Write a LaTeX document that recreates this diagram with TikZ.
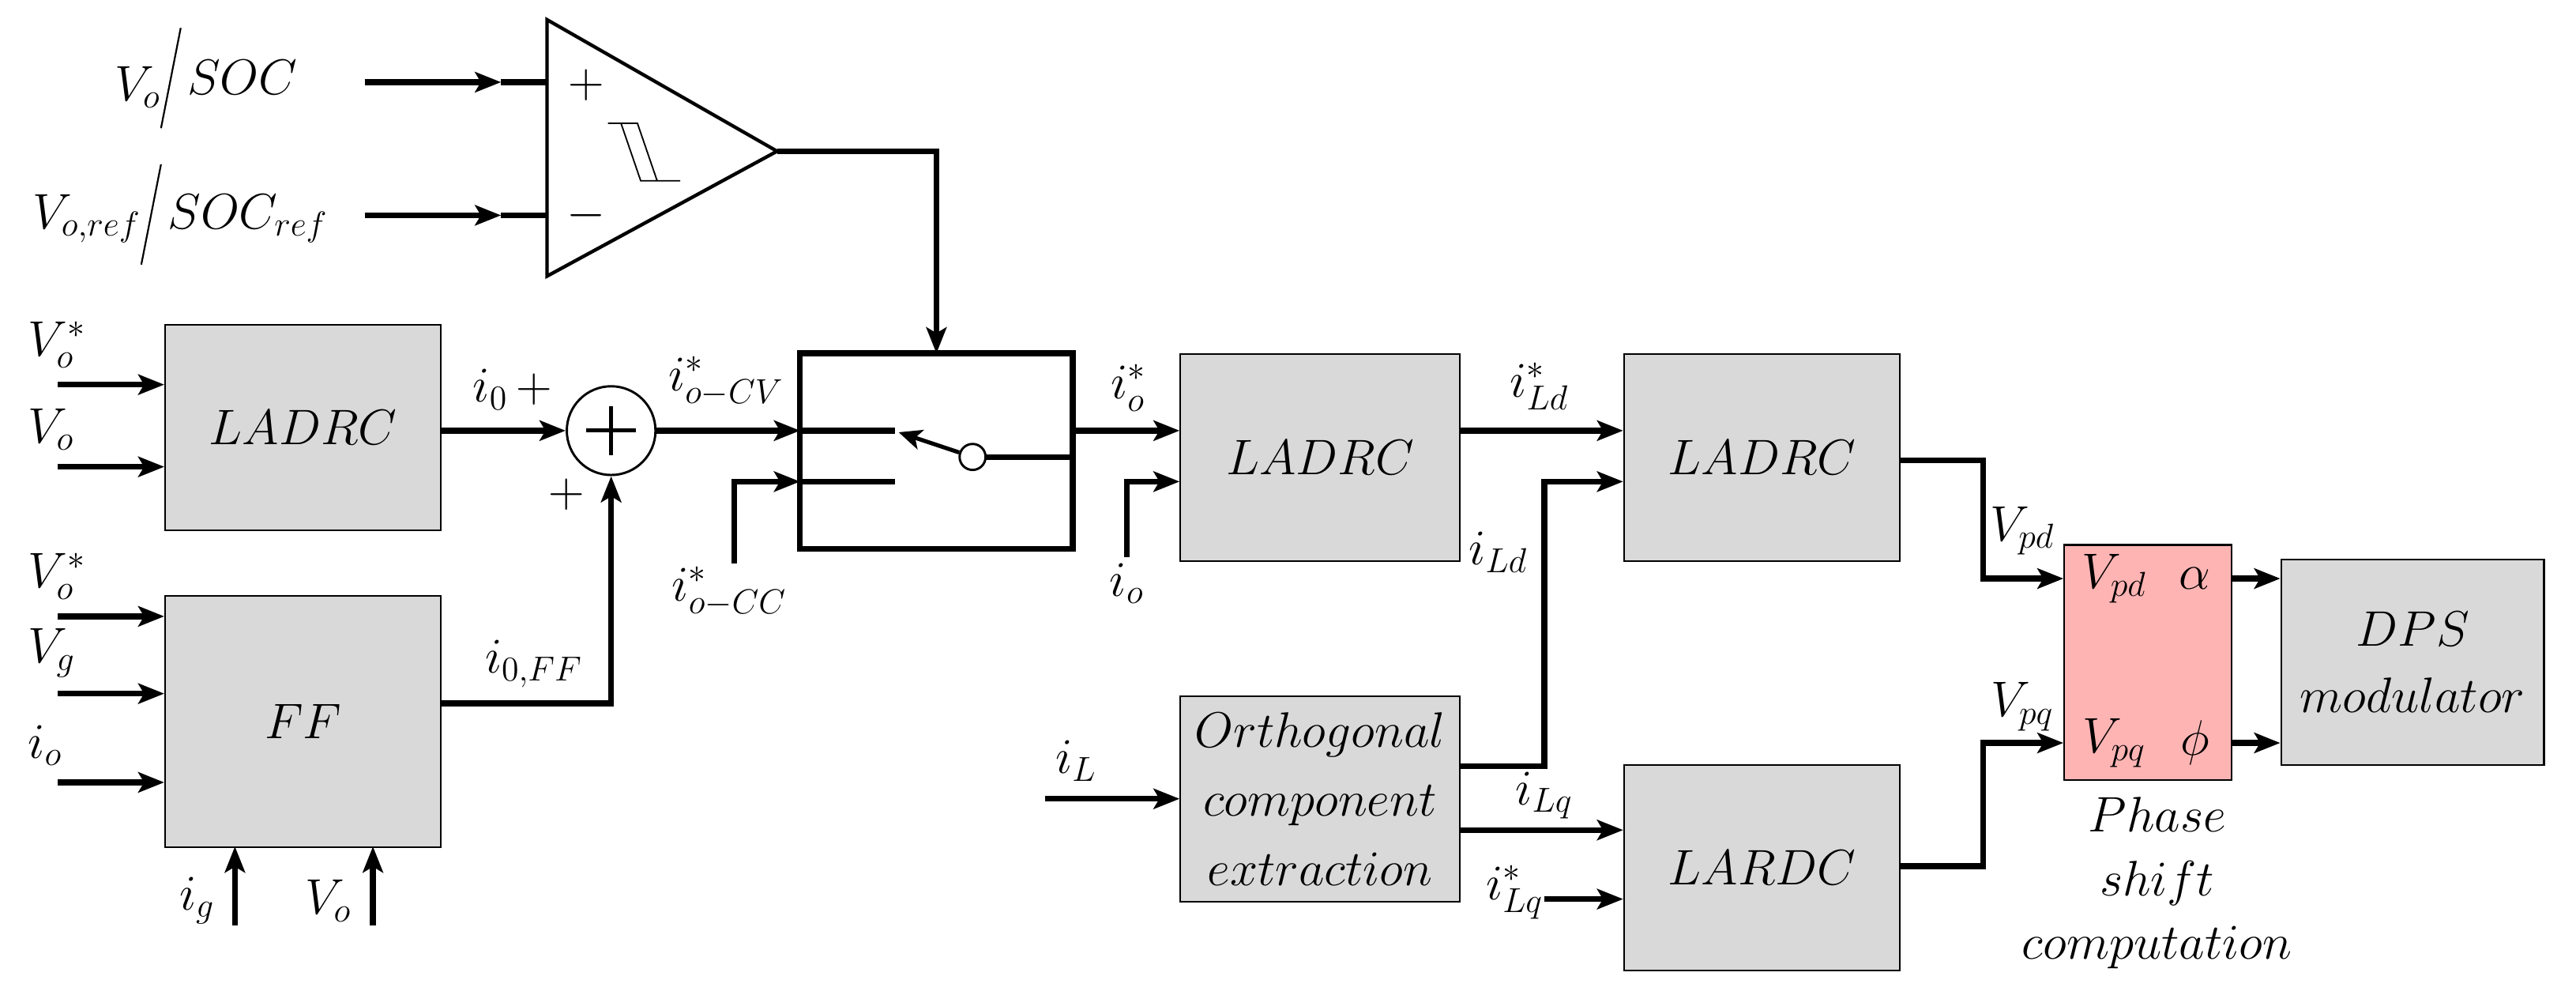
\documentclass[tikz,border=0pt]{standalone}
\usetikzlibrary{arrows.meta,calc}
\begin{document}
\begin{tikzpicture}[x=0.02cm,y=-0.02cm,
  blk/.style={draw=black,fill=gray!30,line width=0.6pt,font=\fontsize{19}{23}\selectfont},
  w/.style={line width=2pt},
  a/.style={w,-{Stealth[length=9pt,width=7pt,inset=2pt]}},
  lab/.style={font=\fontsize{17.5}{21}\selectfont,inner sep=1pt}]
\useasboundingbox (0,0) rectangle (1568,605);
% comparator
\coordinate (tl) at (333,12); \coordinate (bl) at (333,168); \coordinate (tip) at (473,92);
\draw[line width=1.2pt] (tl)--(tip)--(bl)--cycle;
\node[lab] at (357,52) {$+$};
\node[lab] at (357,131) {$-$};
\draw[line width=0.5pt] (370,75)--(388,75)--(400,110)--(414,110) (378,75)--(390,110)--(400,110);
\coordinate (p1) at (333,50); \coordinate (p2) at (333,131);
\node[lab,anchor=west] (soc) at (112,47) {$SOC$};
\node[lab,anchor=east] (vo) at (100,53) {$V_o$};
\draw[line width=0.6pt] (98,78)--(110,17);
\node[lab,anchor=west] (socr) at (100,133) {$SOC_{ref}$};
\node[lab,anchor=east] (vor) at (88,133) {$V_{o,ref}$};
\draw[line width=0.6pt] (86,161)--(98,100);
\draw[a] (222,50)--(305,50); \draw[w] (305,50)--(p1);
\draw[a] (222,131)--(305,131); \draw[w] (305,131)--(p2);
% switch
\coordinate (swtop) at (570,215);
\draw[line width=2pt] (487,215) rectangle (653,334);
\draw[a] (tip)--(570,92)--(swtop);
\draw[w] (487,262)--(545,262);
\draw[w] (487,293)--(545,293);
\node[circle,draw,fill=white,inner sep=0pt,minimum size=9pt,line width=0.8pt] (piv) at (592,278) {};
\draw[w] (piv)--(653,278);
\draw[line width=1.4pt,-{Stealth[length=8pt,width=7pt,inset=2pt]}] (piv)--(547,263);
% LADRC1 & FF
\node[blk,anchor=north west,minimum width=3.36cm,minimum height=2.5cm] (L1) at (100,197) {$LADRC$};
\node[blk,anchor=north west,minimum width=3.36cm,minimum height=3.06cm] (FF) at (100,362) {$FF$};
\draw[a] (35,234)--(100,234); \node[lab,anchor=south west] at (15,226) {$V_o^*$};
\draw[a] (35,284)--(100,284); \node[lab,anchor=south west] at (15,276) {$V_o$};
\draw[a] (35,375)--(100,375); \node[lab,anchor=south west] at (15,367) {$V_o^*$};
\draw[a] (35,422)--(100,422); \node[lab,anchor=south west] at (15,414) {$V_g$};
\draw[a] (35,476)--(100,476); \node[lab,anchor=south west] at (15,468) {$i_o$};
\draw[a] (143,563)--(143,515); \node[lab] at (120,548) {$i_g$};
\draw[a] (227,563)--(227,515); \node[lab] at (200,548) {$V_o$};
% sum
\node[circle,draw,line width=0.8pt,minimum size=1.08cm,inner sep=0pt] (sum) at (372,262) {};
\draw[line width=1.4pt] (357,262)--(387,262) (372,247)--(372,277);
\draw[a] (268,262)--(sum.west);
\node[lab] at (312,237) {$i_0\,+$};
\node[lab] at (345,301) {$+$};
\draw[a] (268,428)--(372,428)--(sum.south);
\node[lab] at (325,404) {$i_{0,FF}$};
\draw[a] (sum.east)--(487,262);
\node[lab] at (442,232) {$i^*_{o-CV}$};
\draw[a] (447,343)--(447,293)--(487,293);
\node[lab] at (444,360) {$i^*_{o-CC}$};
% LADRC2
\node[blk,anchor=north west,minimum width=3.4cm,minimum height=2.52cm] (L2) at (718,215) {$LADRC$};
\draw[a] (653,262)--(718,262); \node[lab] at (687,236) {$i_o^*$};
\draw[a] (686,339)--(686,293)--(718,293); \node[lab] at (686,355) {$i_o$};
% LADRC3
\node[blk,anchor=north west,minimum width=3.36cm,minimum height=2.52cm] (L3) at (988,215) {$LADRC$};
\draw[a] (888,262)--(988,262); \node[lab] at (937,235) {$i^*_{Ld}$};
% Orthogonal
\node[blk,anchor=north west,minimum width=3.4cm,minimum height=2.5cm,align=center,font=\fontsize{17}{24}\selectfont] (OC) at (718,423) {$Orthogonal$\\$component$\\$extraction$};
\draw[a] (636,486)--(718,486); \node[lab] at (655,463) {$i_L$};
\draw[a] (888,466)--(940,466)--(940,293)--(988,293); \node[lab] at (912,336) {$i_{Ld}$};
% LARDC
\node[blk,anchor=north west,minimum width=3.36cm,minimum height=2.5cm] (L4) at (988,465) {$LARDC$};
\draw[a] (888,505)--(988,505); \node[lab] at (940,484) {$i_{Lq}$};
\draw[a] (940,547)--(988,547); \node[lab] at (922,543) {$i^*_{Lq}$};
% phase shift
\node[draw=black,line width=0.6pt,fill={rgb,255:red,255;green,180;blue,180},anchor=north west,minimum width=2.04cm,minimum height=2.86cm] (PS) at (1256,331) {};
\node[lab] at (1287,352) {$V_{pd}$}; \node[lab] at (1336,352) {$\alpha$};
\node[lab] at (1287,452) {$V_{pq}$}; \node[lab] at (1336,452) {$\phi$};
\draw[a] (1156,280)--(1207,280)--(1207,352)--(1256,352); \node[lab] at (1231,323) {$V_{pd}$};
\draw[a] (1156,527)--(1207,527)--(1207,452)--(1256,452); \node[lab] at (1231,430) {$V_{pq}$};
\node[lab,align=center,anchor=north,font=\fontsize{17}{22}\selectfont] at (1313,483) {$Phase$\\$shift$\\$computation$};
% DPS
\node[blk,anchor=north west,minimum width=3.2cm,minimum height=2.5cm,align=center,font=\fontsize{17}{23}\selectfont] (DPS) at (1388,340) {$DPS$\\$modulator$};
\draw[a] (1358,352)--(1388,352);
\draw[a] (1358,452)--(1388,452);
\end{tikzpicture}
\end{document}
